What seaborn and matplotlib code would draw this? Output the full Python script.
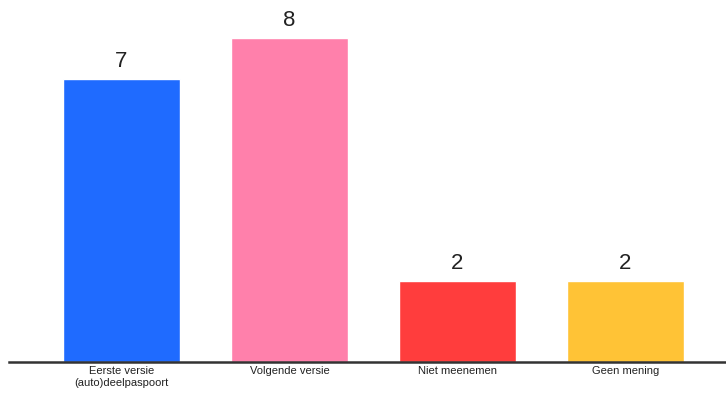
import matplotlib
matplotlib.use("Agg")
import matplotlib.pyplot as plt
import seaborn as sns
import pandas as pd

categories = ["Eerste versie\n(auto)deelpaspoort", "Volgende versie", "Niet meenemen", "Geen mening"]
values = [7, 8, 2, 2]
colors = ["#1F6BFF", "#FF80AB", "#FF3D3D", "#FFC336"]

df = pd.DataFrame({"categorie": categories, "aantal": values})

sns.set_style("white")
plt.rcParams['font.family'] = ['Liberation Sans', 'DejaVu Sans']

fig = plt.figure(figsize=(7.26, 3.97), dpi=100)
ax = fig.add_axes([9 / 726, 35 / 397, 717 / 726, 362 / 397])

sns.barplot(data=df, x="categorie", y="aantal", hue="categorie", palette=colors,
            width=0.696, legend=False, ax=ax, saturation=1)

for i, v in enumerate(values):
    ax.text(i, v + 0.17, str(v), ha="center", va="bottom", fontsize=16, color="#222222")

ax.set_xlim(-0.67, 3.598)
ax.set_ylim(0, 362 / 40.5)
ax.set_xlabel("")
ax.set_ylabel("")
ax.set_yticks([])
ax.tick_params(axis="x", length=0, labelsize=8, colors="#222222", pad=3)
for s in ["top", "right", "left"]:
    ax.spines[s].set_visible(False)
ax.spines["bottom"].set_color("#333333")
ax.spines["bottom"].set_linewidth(1.8)

fig.savefig("out.png", dpi=100)
